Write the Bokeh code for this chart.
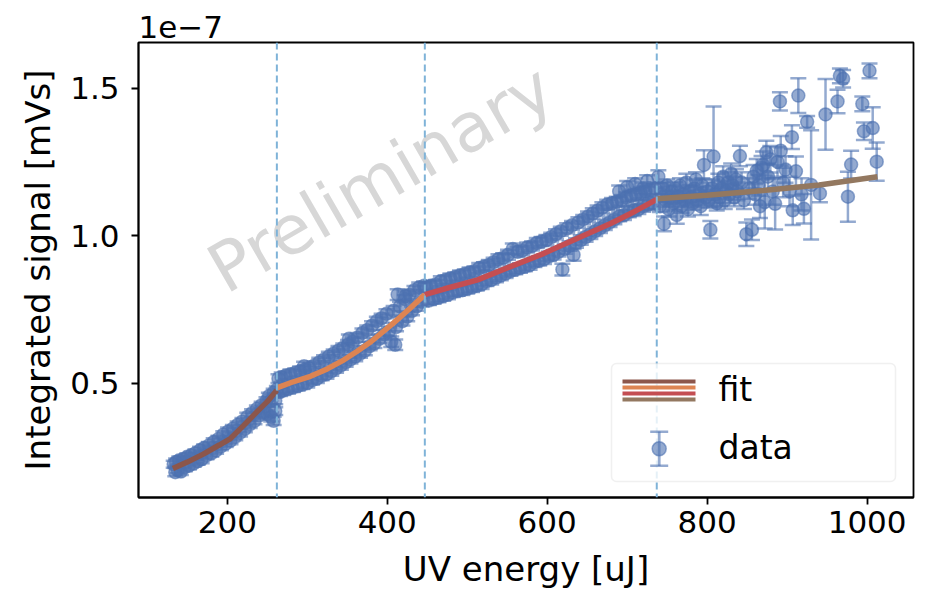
from bokeh.plotting import figure
from bokeh.models import Range1d, FixedTicker, Span, Label, BoxAnnotation
from bokeh.embed import file_html
from bokeh.resources import INLINE

# ---------------- data (signal in units of 1e-7 mVs) ----------------
x_seg1 = [133, 135, 136, 138, 140, 142, 145, 147, 150, 152, 155, 158, 160, 163, 166, 168,
          171, 174, 177, 180, 183, 186, 189, 192, 195, 198, 201, 204, 207, 210, 213, 216,
          219, 222, 225, 228, 231, 234, 237, 240, 243, 246, 249, 250, 252, 255, 255, 258,
          258, 260, 260, 262]
y_seg1 = [0.225, 0.198, 0.232, 0.205, 0.238, 0.200, 0.242, 0.215, 0.250, 0.220, 0.255, 0.228,
          0.262, 0.235, 0.272, 0.242, 0.280, 0.255, 0.288, 0.262, 0.300, 0.272, 0.310, 0.285,
          0.325, 0.295, 0.335, 0.305, 0.345, 0.318, 0.358, 0.332, 0.370, 0.345, 0.385, 0.360,
          0.398, 0.372, 0.412, 0.390, 0.425, 0.405, 0.440, 0.395, 0.455, 0.440, 0.385, 0.468,
          0.372, 0.440, 0.405, 0.478]
err_seg1 = [0.012, 0.014, 0.012, 0.011, 0.013, 0.012, 0.012, 0.014, 0.012, 0.013, 0.011, 0.012,
            0.013, 0.012, 0.012, 0.014, 0.012, 0.013, 0.012, 0.012, 0.013, 0.012, 0.011, 0.013,
            0.012, 0.012, 0.014, 0.012, 0.013, 0.012, 0.012, 0.013, 0.012, 0.012, 0.014, 0.012,
            0.013, 0.012, 0.012, 0.013, 0.012, 0.014, 0.012, 0.013, 0.012, 0.012, 0.015, 0.013,
            0.014, 0.012, 0.013, 0.012]

x_seg2 = [264, 266, 268, 270, 273, 276, 279, 282, 285, 288, 291, 294, 296, 297, 300, 303,
          306, 309, 312, 315, 318, 321, 324, 327, 330, 333, 336, 339, 342, 345, 348, 351,
          352, 354, 357, 360, 363, 366, 369, 372, 375, 378, 381, 384, 387, 390, 393, 396,
          399, 402, 405, 408, 410, 411, 413, 416, 419, 422, 423, 425, 428, 431, 434, 437,
          440, 443, 446]
y_seg2 = [0.515, 0.470, 0.520, 0.475, 0.525, 0.480, 0.530, 0.485, 0.535, 0.490, 0.540, 0.495,
          0.557, 0.545, 0.500, 0.550, 0.510, 0.560, 0.515, 0.570, 0.525, 0.580, 0.530, 0.590,
          0.540, 0.600, 0.550, 0.610, 0.560, 0.620, 0.570, 0.630, 0.650, 0.580, 0.640, 0.590,
          0.655, 0.600, 0.670, 0.610, 0.680, 0.625, 0.695, 0.635, 0.710, 0.650, 0.720, 0.665,
          0.735, 0.675, 0.640, 0.745, 0.630, 0.690, 0.800, 0.760, 0.710, 0.785, 0.795, 0.725,
          0.800, 0.745, 0.815, 0.760, 0.825, 0.775, 0.830]
err_seg2 = [0.015, 0.014, 0.016, 0.015, 0.014, 0.015, 0.016, 0.015, 0.014, 0.015, 0.016, 0.015,
            0.015, 0.014, 0.015, 0.016, 0.015, 0.014, 0.015, 0.016, 0.015, 0.014, 0.015, 0.016,
            0.015, 0.014, 0.015, 0.016, 0.015, 0.014, 0.015, 0.016, 0.015, 0.014, 0.015, 0.016,
            0.015, 0.014, 0.015, 0.016, 0.015, 0.014, 0.015, 0.016, 0.015, 0.014, 0.015, 0.016,
            0.015, 0.014, 0.018, 0.016, 0.018, 0.014, 0.018, 0.016, 0.015, 0.014, 0.016, 0.015,
            0.016, 0.015, 0.014, 0.015, 0.016, 0.015, 0.014]

x_seg3 = [449, 452, 455, 458, 461, 464, 467, 470, 473, 476, 479, 482, 485, 488, 491, 494,
          497, 500, 503, 506, 509, 512, 515, 518, 521, 524, 527, 530, 533, 536, 539, 542,
          545, 548, 551, 554, 557, 560, 563, 566, 569, 572, 575, 578, 581, 584, 587, 590,
          593, 596, 599, 602, 605, 608, 611, 614, 617, 619, 622, 625, 628, 631, 633, 636,
          639, 642, 645, 648, 651, 654, 657, 660, 663, 666, 669, 672, 675, 678, 681, 684,
          687, 690, 690, 693, 696, 699, 700, 702, 705, 708, 710, 711, 714, 717, 720, 720,
          723, 725, 726, 729, 732, 735]
y_seg3 = [0.825, 0.780, 0.830, 0.785, 0.835, 0.790, 0.845, 0.795, 0.850, 0.800, 0.855, 0.808,
          0.860, 0.812, 0.865, 0.815, 0.870, 0.820, 0.875, 0.825, 0.880, 0.830, 0.890, 0.835,
          0.895, 0.845, 0.900, 0.850, 0.910, 0.858, 0.920, 0.865, 0.925, 0.872, 0.935, 0.880,
          0.955, 0.885, 0.945, 0.890, 0.950, 0.895, 0.960, 0.900, 0.965, 0.910, 0.975, 0.915,
          0.980, 0.920, 0.985, 0.930, 0.995, 0.935, 1.005, 0.945, 1.015, 0.885, 0.955, 1.025,
          0.965, 1.035, 0.935, 0.975, 1.045, 0.985, 1.055, 0.995, 1.065, 1.005, 1.075, 1.015,
          1.085, 1.025, 1.095, 1.035, 1.105, 1.045, 1.110, 1.055, 1.115, 1.065, 1.150, 1.120,
          1.070, 1.130, 1.165, 1.080, 1.135, 1.085, 1.175, 1.140, 1.090, 1.145, 1.100, 1.160,
          1.150, 1.185, 1.105, 1.155, 1.110, 1.160]
err_seg3 = [0.016, 0.015, 0.017, 0.016, 0.015, 0.016, 0.017, 0.016, 0.015, 0.016, 0.017, 0.016,
            0.015, 0.016, 0.017, 0.016, 0.015, 0.016, 0.017, 0.016, 0.015, 0.016, 0.017, 0.016,
            0.015, 0.016, 0.017, 0.016, 0.015, 0.016, 0.017, 0.016, 0.015, 0.016, 0.017, 0.016,
            0.018, 0.016, 0.017, 0.016, 0.015, 0.016, 0.017, 0.016, 0.015, 0.016, 0.017, 0.016,
            0.015, 0.016, 0.017, 0.016, 0.015, 0.016, 0.017, 0.016, 0.015, 0.020, 0.016, 0.017,
            0.016, 0.015, 0.020, 0.016, 0.017, 0.016, 0.015, 0.016, 0.017, 0.016, 0.018, 0.016,
            0.017, 0.016, 0.018, 0.016, 0.017, 0.016, 0.018, 0.016, 0.017, 0.016, 0.020, 0.018,
            0.017, 0.018, 0.020, 0.018, 0.017, 0.018, 0.020, 0.018, 0.017, 0.018, 0.019, 0.020,
            0.018, 0.020, 0.018, 0.019, 0.020, 0.020]

x_seg4 = [739, 741, 743, 745, 746, 748, 750, 752, 754, 756, 758, 760, 762, 764, 766, 768,
          770, 772, 774, 776, 778, 780, 782, 784, 786, 788, 790, 792, 794, 796, 798, 800,
          802, 804, 806, 808, 810, 812, 814, 816, 818, 820, 822, 824, 826, 828, 830, 832,
          834, 836, 838, 841, 843, 846, 849, 852, 856, 858, 860, 862, 864, 866, 868, 870,
          872, 874, 876, 879, 882, 885, 888, 891, 892, 895, 898, 903, 906, 907, 911, 914,
          918, 921, 925, 930, 941, 948, 963, 966, 970, 976, 980, 994, 996, 1003, 1007, 1012]
y_seg4 = [1.200, 1.100, 1.140, 1.160, 1.040, 1.120, 1.170, 1.090, 1.130, 1.150, 1.110, 1.160,
          1.070, 1.130, 1.170, 1.100, 1.140, 1.120, 1.180, 1.090, 1.150, 1.130, 1.110, 1.160,
          1.190, 1.120, 1.140, 1.100, 1.170, 1.240, 1.130, 1.150, 1.120, 1.020, 1.160, 1.268,
          1.140, 1.110, 1.180, 1.130, 1.160, 1.200, 1.120, 1.150, 1.180, 1.140, 1.210, 1.170,
          1.130, 1.190, 1.150, 1.270, 1.180, 1.120, 1.005, 1.160, 1.020, 1.200, 1.140, 1.220,
          1.170, 1.100, 1.230, 1.240, 1.114, 1.282, 1.200, 1.259, 1.150, 1.108, 1.250, 1.455,
          1.288, 1.180, 1.224, 1.150, 1.334, 1.086, 1.218, 1.475, 1.140, 1.091, 1.386, 1.172,
          1.143, 1.411, 1.455, 1.542, 1.532, 1.132, 1.241, 1.447, 1.354, 1.559, 1.365, 1.251]
err_seg4 = [0.022, 0.020, 0.025, 0.020, 0.025, 0.022, 0.020, 0.025, 0.022, 0.020, 0.025, 0.022,
            0.030, 0.022, 0.025, 0.022, 0.025, 0.022, 0.030, 0.025, 0.022, 0.025, 0.022, 0.030,
            0.025, 0.022, 0.025, 0.030, 0.025, 0.050, 0.025, 0.030, 0.025, 0.030, 0.030, 0.170,
            0.030, 0.025, 0.030, 0.030, 0.025, 0.035, 0.030, 0.025, 0.035, 0.030, 0.035, 0.030,
            0.030, 0.035, 0.030, 0.035, 0.035, 0.030, 0.040, 0.035, 0.035, 0.040, 0.035, 0.040,
            0.035, 0.040, 0.040, 0.045, 0.090, 0.040, 0.045, 0.045, 0.045, 0.087, 0.050, 0.031,
            0.050, 0.050, 0.045, 0.050, 0.040, 0.050, 0.050, 0.059, 0.055, 0.050, 0.020, 0.185,
            0.030, 0.120, 0.040, 0.025, 0.030, 0.085, 0.047, 0.025, 0.030, 0.025, 0.070, 0.065]

# fitted curves (piecewise)
fit1_x = [132, 150, 170, 190, 204, 220, 238, 250, 262]
fit1_y = [0.210, 0.232, 0.259, 0.290, 0.312, 0.355, 0.405, 0.437, 0.476]
fit2_x = [262, 280, 304, 325, 346, 362, 380, 408, 428, 447]
fit2_y = [0.484, 0.502, 0.523, 0.548, 0.579, 0.607, 0.641, 0.704, 0.752, 0.800]
fit3_x = [447, 471, 513, 554, 596, 638, 680, 710, 737]
fit3_y = [0.800, 0.819, 0.850, 0.895, 0.940, 0.991, 1.042, 1.083, 1.123]
fit4_x = [737, 800, 870, 940, 1013]
fit4_y = [1.125, 1.137, 1.153, 1.172, 1.200]

breakpoints = [262, 447, 737]

x_ticks = [200, 400, 600, 800, 1000]
y_ticks = [0.5, 1.0, 1.5]
y_tick_labels = ["0.5", "1.0", "1.5"]

DATA_BLUE = "#4c72b0"
FIT_COLORS = ["#8c564b", "#dd8452", "#c44e52", "#937860"]
FONT = "DejaVu Sans"
FS = "31px"
FS_LABEL = "34px"
FS_LEGEND = "33px"

xs = x_seg1 + x_seg2 + x_seg3 + x_seg4
ys = y_seg1 + y_seg2 + y_seg3 + y_seg4
es = err_seg1 + err_seg2 + err_seg3 + err_seg4
lo = [y - e for y, e in zip(ys, es)]
hi = [y + e for y, e in zip(ys, es)]

p = figure(width=927, height=591, output_backend="svg", toolbar_location=None,
           x_range=Range1d(89, 1058), y_range=Range1d(0.112, 1.655),
           min_border_left=138, min_border_right=14, min_border_top=42, min_border_bottom=93,
           title="1e\u22127")
p.title.align = "left"
p.title.text_font = FONT
p.title.text_font_size = FS
p.title.text_font_style = "normal"
p.title.text_color = "black"
p.title.standoff = 10
p.title.offset = 0

p.background_fill_color = "white"
p.border_fill_color = "white"
p.outline_line_color = "black"
p.outline_line_width = 1.8
p.xgrid.visible = False
p.ygrid.visible = False

for ax in (p.xaxis[0], p.yaxis[0]):
    ax.axis_line_width = 1.8
    ax.major_tick_line_width = 1.8
    ax.major_tick_out = 7
    ax.major_tick_in = 0
    ax.minor_tick_out = 0
    ax.minor_tick_in = 0
    ax.major_label_text_font = FONT
    ax.major_label_text_font_size = FS
    ax.major_label_text_color = "black"
    ax.axis_label_text_font = FONT
    ax.axis_label_text_font_size = FS_LABEL
    ax.axis_label_text_font_style = "normal"
    ax.axis_label_text_color = "black"

p.xaxis.ticker = FixedTicker(ticks=x_ticks)
p.yaxis.ticker = FixedTicker(ticks=y_ticks)
p.yaxis.major_label_overrides = dict(zip(y_ticks, y_tick_labels))
p.xaxis.axis_label = "UV energy [uJ]"
p.yaxis.axis_label = "Integrated signal [mVs]"
p.xaxis.major_label_standoff = 6
p.xaxis.axis_label_standoff = 13
p.yaxis.major_label_standoff = 12
p.yaxis.axis_label_standoff = 9

# watermark (under everything)
p.add_layout(Label(x=380, y=178, x_units="canvas", y_units="canvas", text="Preliminary",
                   angle=0.5236, text_align="center", text_baseline="middle",
                   text_font=FONT, text_font_size="68px", text_color="#d7d7d7",
                   level="underlay"))

# data with error bars
p.segment(x0=xs, y0=lo, x1=xs, y1=hi, line_color=DATA_BLUE, line_alpha=0.6, line_width=2.5)
p.scatter(x=xs, y=hi, marker="dash", size=16, line_color=DATA_BLUE, line_alpha=0.6, line_width=2.5)
p.scatter(x=xs, y=lo, marker="dash", size=16, line_color=DATA_BLUE, line_alpha=0.6, line_width=2.5)
p.scatter(x=xs, y=ys, marker="circle", size=13, fill_color=DATA_BLUE, fill_alpha=0.6,
          line_color=DATA_BLUE, line_alpha=0.6, line_width=1.5)

# fits
for fx, fy, c in zip([fit1_x, fit2_x, fit3_x, fit4_x], [fit1_y, fit2_y, fit3_y, fit4_y], FIT_COLORS):
    p.line(fx, fy, line_color=c, line_width=5.5)

# breakpoints
for b in breakpoints:
    p.add_layout(Span(location=b, dimension="height", line_color="#7fb3d8",
                      line_width=2, line_dash="7 4"))

# legend (drawn manually so the four fit colours stack as in the reference)
def cbox(l, r, t, b, **kw):
    return BoxAnnotation(left=l, right=r, top=t, bottom=b, left_units="canvas",
                         right_units="canvas", top_units="canvas", bottom_units="canvas", **kw)

p.add_layout(cbox(611, 895, 363, 481, fill_color="white", fill_alpha=0.8,
                  line_color="#cccccc", line_width=1.5, border_radius=5))
for i, c in enumerate(FIT_COLORS):
    p.add_layout(cbox(622, 695, 379 + 6 * i, 383 + 6 * i, fill_color=c, fill_alpha=1.0,
                      line_alpha=0))
p.add_layout(Label(x=718, y=389, x_units="canvas", y_units="canvas", text="fit",
                   text_baseline="middle", text_font=FONT, text_font_size=FS_LEGEND,
                   text_color="black"))
p.add_layout(cbox(657.3, 660.1, 431, 465.5, fill_color=DATA_BLUE, fill_alpha=0.6, line_alpha=0))
p.add_layout(cbox(649.7, 667.7, 430, 432.5, fill_color=DATA_BLUE, fill_alpha=0.6, line_alpha=0))
p.add_layout(cbox(649.7, 667.7, 464, 466.5, fill_color=DATA_BLUE, fill_alpha=0.6, line_alpha=0))
p.add_layout(cbox(651.7, 665.7, 441.3, 455.3, fill_color=DATA_BLUE, fill_alpha=0.6,
                  line_color=DATA_BLUE, line_alpha=0.6, line_width=1.5, border_radius=7))
p.add_layout(Label(x=718, y=447, x_units="canvas", y_units="canvas", text="data",
                   text_baseline="middle", text_font=FONT, text_font_size=FS_LEGEND,
                   text_color="black"))

open("out.html", "w").write(file_html(p, INLINE))
